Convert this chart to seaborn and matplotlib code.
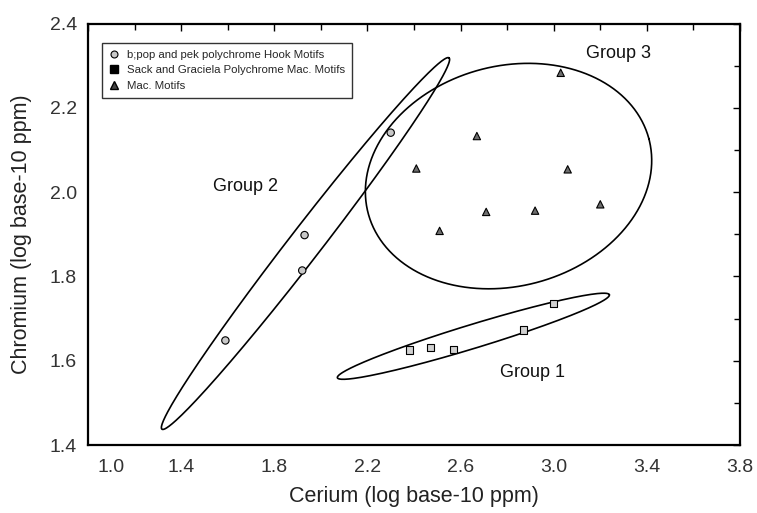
import numpy as np
import pandas as pd
import matplotlib
matplotlib.use("Agg")
import matplotlib.pyplot as plt
import seaborn as sns
from matplotlib.lines import Line2D
from matplotlib.ticker import MultipleLocator, FormatStrFormatter
from matplotlib.transforms import ScaledTranslation

# Data (log base-10 ppm)
hook_ce = [1.59, 1.92, 1.93, 2.30]
hook_cr = [1.648, 1.814, 1.898, 2.141]

sack_ce = [2.38, 2.47, 2.57, 2.87, 3.00]
sack_cr = [1.625, 1.631, 1.627, 1.673, 1.736]

mac_ce = [3.03, 2.67, 2.41, 3.06, 3.20, 2.71, 2.92, 2.51]
mac_cr = [2.283, 2.133, 2.056, 2.054, 1.971, 1.953, 1.956, 1.908]

group_names = ["b;pop and pek polychrome Hook Motifs",
               "Sack and Graciela Polychrome Mac. Motifs",
               "Mac. Motifs"]

x_ticks = [1.0, 1.4, 1.8, 2.2, 2.6, 3.0, 3.4, 3.8]
y_ticks = [1.4, 1.6, 1.8, 2.0, 2.2, 2.4]

# group ellipses: centre, half-axis vector u, half-axis vector v (data units)
ellipse_centres = [(2.655, 1.658), (1.934, 1.878), (2.806, 2.038)]
ellipse_u = [(0.584, 0.0985), (0.6165, 0.4405), (0.6025, 0.089)]
ellipse_v = [(0.015, -0.027), (0.0545, -0.0232), (-0.1226, 0.2522)]

group_labels = ["Group 1", "Group 2", "Group 3"]
group_label_pos = [(2.908, 1.571), (1.675, 2.013), (3.280, 2.330)]


def ellipse_curve(centre, u, v, n=300):
    t = np.linspace(0, 2 * np.pi, n)
    x = centre[0] + u[0] * np.cos(t) + v[0] * np.sin(t)
    y = centre[1] + u[1] * np.cos(t) + v[1] * np.sin(t)
    return x, y


df = pd.DataFrame({
    "Ce": hook_ce + sack_ce + mac_ce,
    "Cr": hook_cr + sack_cr + mac_cr,
    "group": [group_names[0]] * len(hook_ce) + [group_names[1]] * len(sack_ce)
             + [group_names[2]] * len(mac_ce),
})

sns.set_theme(style="white")
plt.rcParams["font.family"] = ["Liberation Sans", "DejaVu Sans"]

fig = plt.figure(figsize=(7.57, 5.13), dpi=100)
ax = fig.add_axes([88 / 757, 1 - 445 / 513, 652 / 757, 421.5 / 513])

palette = {group_names[0]: "#c8c8c8", group_names[1]: "#d0d0d0", group_names[2]: "#6e6e6e"}
markers = {group_names[0]: "o", group_names[1]: "s", group_names[2]: "^"}

sns.scatterplot(data=df, x="Ce", y="Cr", hue="group", style="group",
                palette=palette, markers=markers, s=28, edgecolor="black",
                linewidth=0.8, legend=False, ax=ax, zorder=3)

for c, u, v in zip(ellipse_centres, ellipse_u, ellipse_v):
    ex, ey = ellipse_curve(c, u, v)
    ax.plot(ex, ey, color="black", lw=1.2, zorder=2)

for lab, (lx, ly) in zip(group_labels, group_label_pos):
    ax.text(lx, ly, lab, ha="center", va="center", fontsize=13, color="#111111")

ax.set_xlim(1.0, 3.8)
ax.set_ylim(1.4, 2.4)
ax.set_xticks(x_ticks)
ax.set_yticks(y_ticks)
ax.xaxis.set_minor_locator(MultipleLocator(0.2))
ax.yaxis.set_minor_locator(MultipleLocator(0.1))
ax.xaxis.set_major_formatter(FormatStrFormatter("%.1f"))
ax.yaxis.set_major_formatter(FormatStrFormatter("%.1f"))
ax.tick_params(which="both", direction="in", top=True, right=True,
               colors="black", labelsize=14, width=1.0)
ax.tick_params(which="major", length=5)
ax.tick_params(axis="x", which="major", pad=10)
ax.tick_params(axis="y", which="major", pad=8)
ax.tick_params(which="minor", length=4)
for lbl in ax.get_xticklabels() + ax.get_yticklabels():
    lbl.set_color("#333333")

for sp in ax.spines.values():
    sp.set_visible(True)
    sp.set_color("black")
    sp.set_linewidth(1.6)

ax.set_xlabel("Cerium (log base-10 ppm)", fontsize=15.5, color="#222222", labelpad=7)
ax.set_ylabel("Chromium (log base-10 ppm)", fontsize=15.5, color="#222222", labelpad=13)

# the first x label sits a little right of the corner in the original
fig.canvas.draw()
first = ax.get_xticklabels()[0]
first.set_transform(first.get_transform() + ScaledTranslation(0.235, 0, fig.dpi_scale_trans))

handles = [
    Line2D([], [], ls="none", marker="o", markersize=5, markerfacecolor="#c8c8c8",
           markeredgecolor="black", markeredgewidth=0.8),
    Line2D([], [], ls="none", marker="s", markersize=6, markerfacecolor="black",
           markeredgecolor="black"),
    Line2D([], [], ls="none", marker="^", markersize=6, markerfacecolor="#444444",
           markeredgecolor="black"),
]
leg = ax.legend(handles, group_names, loc="upper left", bbox_to_anchor=(0.012, 0.968),
                fontsize=8.2, frameon=True, fancybox=False, handlelength=1.0,
                handletextpad=0.6, borderpad=0.6, labelspacing=0.5)
leg.get_frame().set_edgecolor("black")
leg.get_frame().set_linewidth(1.0)

fig.savefig("out.png", dpi=100)
